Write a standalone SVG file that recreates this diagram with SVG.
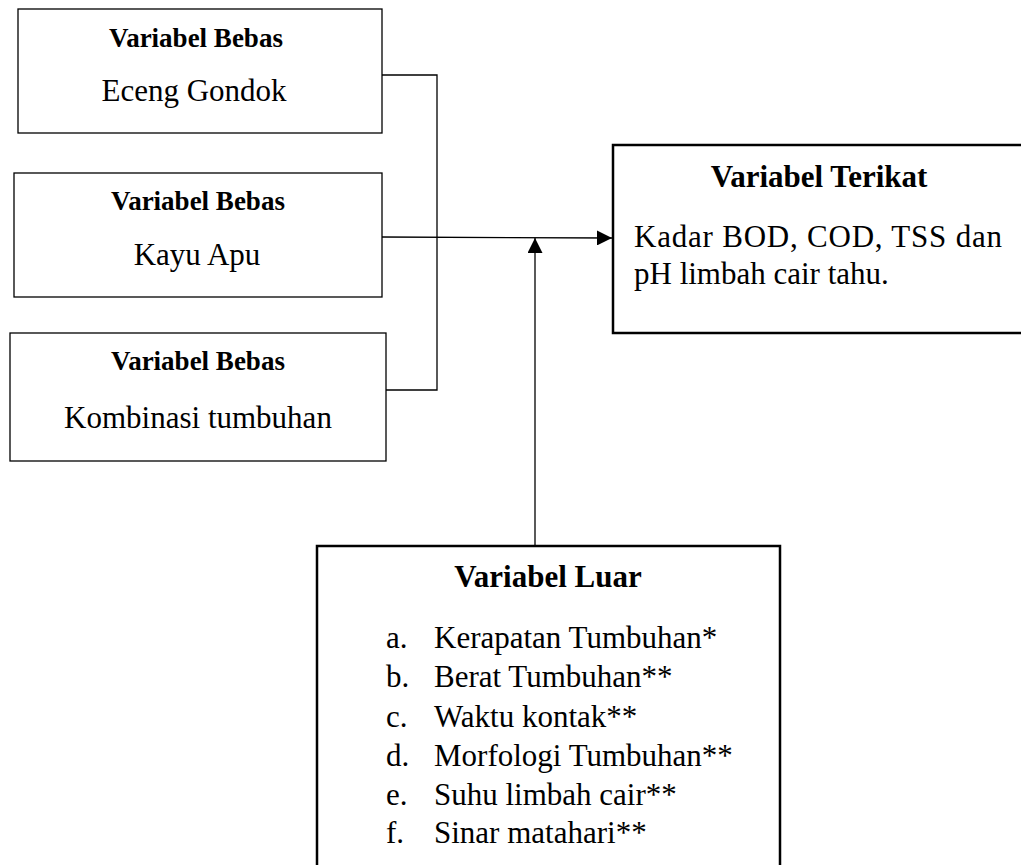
<svg xmlns="http://www.w3.org/2000/svg" width="1021" height="865" viewBox="0 0 1021 865">
<style>
text{font-family:"Liberation Serif","Times New Roman",serif;fill:#000}
.tb{font-weight:bold;font-size:27px;text-anchor:middle}
.tb2{font-weight:bold;font-size:31px;text-anchor:middle}
.bd{font-size:31px}
.c{text-anchor:middle}
.thin{fill:#fff;stroke:#000;stroke-width:1.3}
.thick{fill:#fff;stroke:#000;stroke-width:2.5}
.ln{fill:none;stroke:#000;stroke-width:1.3}
</style>
<defs>
<marker id="ah" viewBox="0 0 15 15" refX="15" refY="7.5" markerWidth="15" markerHeight="15" markerUnits="userSpaceOnUse" orient="auto">
<path d="M0,0 L15,7.5 L0,15 Z" fill="#000"/>
</marker>
</defs>
<g id="connectors">
<polyline class="ln" points="382,75 437,75 437,390 386,390"/>
<line class="ln" x1="382" y1="237" x2="612" y2="238" marker-end="url(#ah)"/>
<line class="ln" x1="535" y1="546" x2="535" y2="238" marker-end="url(#ah)"/>
</g>
<g id="bebas1">
<rect class="thin" x="18" y="9" width="364" height="124"/>
<text class="tb" x="196" y="47">Variabel Bebas</text>
<text class="bd c" x="194" y="101">Eceng Gondok</text>
</g>
<g id="bebas2">
<rect class="thin" x="14" y="173" width="368" height="124"/>
<text class="tb" x="198" y="210">Variabel Bebas</text>
<text class="bd c" x="197" y="265">Kayu Apu</text>
</g>
<g id="bebas3">
<rect class="thin" x="10" y="333" width="376" height="128"/>
<text class="tb" x="198" y="370">Variabel Bebas</text>
<text class="bd c" x="198" y="428">Kombinasi tumbuhan</text>
</g>
<g id="terikat">
<rect class="thick" x="613" y="145" width="412" height="188"/>
<text class="tb2" x="819" y="187">Variabel Terikat</text>
<text class="bd" x="634" y="247" textLength="368" lengthAdjust="spacing">Kadar BOD, COD, TSS dan</text>
<text class="bd" x="634" y="284">pH limbah cair tahu.</text>
</g>
<g id="luar">
<rect class="thick" x="317" y="546" width="463" height="325"/>
<text class="tb2" x="548" y="587">Variabel Luar</text>
<text class="bd" x="386" y="648">a.</text><text class="bd" x="434" y="648">Kerapatan Tumbuhan*</text>
<text class="bd" x="386" y="687">b.</text><text class="bd" x="434" y="687">Berat Tumbuhan**</text>
<text class="bd" x="386" y="727">c.</text><text class="bd" x="434" y="727">Waktu kontak**</text>
<text class="bd" x="386" y="766">d.</text><text class="bd" x="434" y="766">Morfologi Tumbuhan**</text>
<text class="bd" x="386" y="805">e.</text><text class="bd" x="434" y="805">Suhu limbah cair**</text>
<text class="bd" x="386" y="843">f.</text><text class="bd" x="434" y="843">Sinar matahari**</text>
</g>
</svg>
